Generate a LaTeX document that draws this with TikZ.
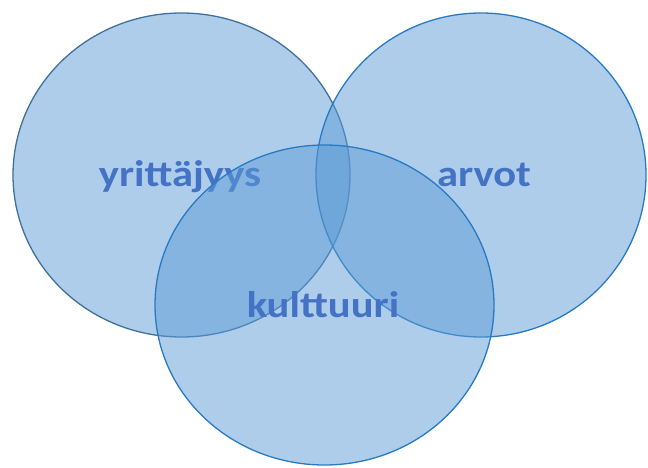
\documentclass[tikz,border=0pt]{standalone}
\usepackage{fontspec}
\setmainfont{Carlito}
\begin{document}
\begin{tikzpicture}[x=1pt,y=-1pt,
  setfill/.style={fill={rgb,255:red,91;green,155;blue,213}, fill opacity=0.5},
  setlabel/.style={text={rgb,255:red,68;green,114;blue,196}, font=\fontsize{37}{40}\selectfont\bfseries, xscale=1.15, inner sep=0pt, anchor=base},
  leftedge/.style={draw={rgb,255:red,65;green,113;blue,156}, line width=1.3pt},
  edge/.style={draw={rgb,255:red,40;green,122;blue,196}, line width=1.3pt}]
\useasboundingbox (0,0) rectangle (648,468);
% entrepreneurship
\path[setfill, leftedge] (181.5,175) ellipse [x radius=168.5, y radius=162];
\node[setlabel] (yr) at (180,186) {yrittäjyys};
% values
\path[setfill, edge] (481,175) ellipse [x radius=165, y radius=162];
\node[setlabel] (ar) at (484,186) {arvot};
% culture
\path[setfill, edge] (324.5,305) ellipse [x radius=169.5, y radius=160];
\node[setlabel] (ku) at (323,317) {kulttuuri};
\end{tikzpicture}
\end{document}
